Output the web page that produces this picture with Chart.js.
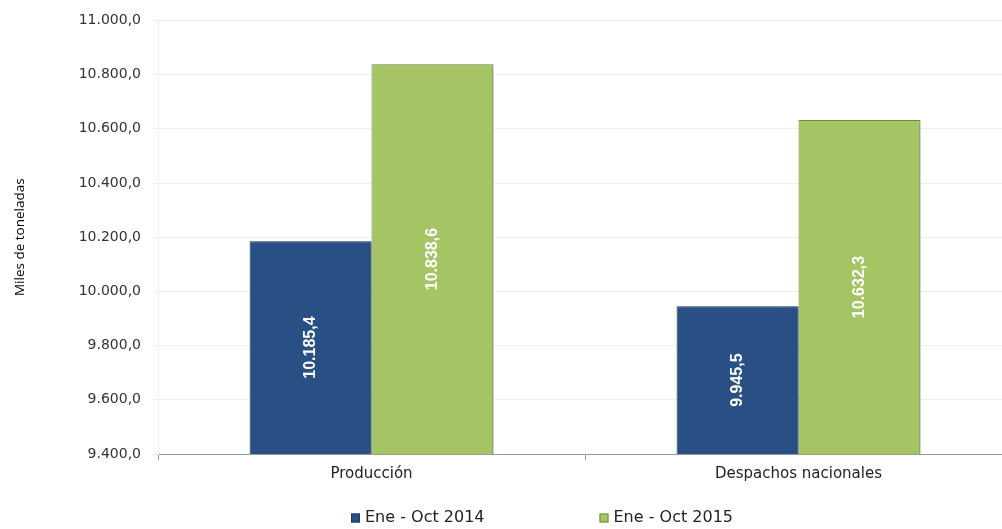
<!DOCTYPE html>
<html>
<head>
<meta charset="utf-8">
<script src="https://cdn.jsdelivr.net/npm/chart.js@4.4.1/dist/chart.umd.min.js"></script>
<style>
  html, body { margin: 0; padding: 0; background: #fff; overflow: hidden; }
  #wrap { width: 1092px; height: 529px; }
</style>
</head>
<body>
<div id="wrap"><canvas id="chart"></canvas></div>
<script>
var categories = ['Producción', 'Despachos nacionales'];
var series2014 = [10185.4, 9945.5];
var series2015 = [10838.6, 10632.3];
var seriesNames = ['Ene - Oct 2014', 'Ene - Oct 2015'];
var yMin = 9400, yMax = 11000, yStep = 200;

function fmt(v) {
    var parts = Number(v).toFixed(1).split('.');
    var ent = parts[0].replace(/\B(?=(\d{3})+(?!\d))/g, '.');
    return ent + ',' + parts[1];
}

var barShadow = {
    id: 'barShadow',
    beforeDatasetsDraw: function(chart) {
        var ctx = chart.ctx;
        ctx.save();
        ctx.shadowColor = 'rgba(0,0,0,0.35)';
        ctx.shadowBlur = 3;
        ctx.shadowOffsetX = 2;
        ctx.shadowOffsetY = 1;
    },
    afterDatasetsDraw: function(chart) {
        chart.ctx.restore();
    }
};

// etiquetas blancas giradas dentro de las barras + leyenda abajo
var extras = {
    id: 'extras',
    afterDraw: function(chart) {
        var ctx = chart.ctx;
        var ys = chart.scales.y;
        chart.data.datasets.forEach(function(ds, i) {
            var meta = chart.getDatasetMeta(i);
            meta.data.forEach(function(bar, j) {
                var top = ys.getPixelForValue(ds.data[j]);
                var bottom = ys.getPixelForValue(yMin);
                var cx = bar.x;
                ctx.save();
                ctx.translate(cx, (top + bottom) / 2);
                ctx.rotate(-Math.PI / 2);
                ctx.fillStyle = '#ffffff';
                ctx.font = 'bold 16px "Liberation Sans", sans-serif';
                ctx.textAlign = 'center';
                ctx.textBaseline = 'middle';
                ctx.fillText(fmt(ds.data[j]), 0, 0);
                ctx.restore();
            });
        });

        // leyenda
        ctx.save();
        ctx.font = '16px "DejaVu Sans", sans-serif';
        var box = 9, gapText = 5, gapItems = 115, y = 518;
        var widths = chart.data.datasets.map(function(ds) {
            return box + gapText + ctx.measureText(ds.label).width;
        });
        var total = widths[0] + gapItems + widths[1];
        var x = chart.width / 2 - total / 2 - 4;
        chart.data.datasets.forEach(function(ds, i) {
            ctx.fillStyle = ds.backgroundColor;
            ctx.strokeStyle = ds.borderColor;
            ctx.lineWidth = 1;
            ctx.fillRect(x, y - box / 2, box, box);
            ctx.strokeRect(x + 0.5, y - box / 2 + 0.5, box - 1, box - 1);
            ctx.fillStyle = '#222';
            ctx.textAlign = 'left';
            ctx.textBaseline = 'middle';
            ctx.fillText(ds.label, x + box + gapText, y);
            x += widths[i] + gapItems;
        });
        ctx.restore();
    }
};

new Chart(document.getElementById('chart'), {
    type: 'bar',
    data: {
        labels: categories,
        datasets: [
            {
                label: seriesNames[0],
                data: series2014,
                backgroundColor: '#285084',
                borderColor: '#1c3a60',
                borderWidth: 1,
                categoryPercentage: 0.571,
                barPercentage: 1.0
            },
            {
                label: seriesNames[1],
                data: series2015,
                backgroundColor: '#a5c463',
                borderColor: '#748f3c',
                borderWidth: 1,
                categoryPercentage: 0.571,
                barPercentage: 1.0
            }
        ]
    },
    options: {
        responsive: true,
        maintainAspectRatio: false,
        animation: false,
        layout: { padding: { left: 8, right: 80, top: 3, bottom: 0 } },
        plugins: {
            tooltip: { enabled: false },
            legend: { display: false }
        },
        scales: {
            x: {
                afterFit: function(scale) { scale.height = 75; },
                grid: { drawOnChartArea: false, color: '#999', tickLength: 6, offset: true },
                border: { color: '#999' },
                ticks: {
                    color: '#222',
                    padding: 5,
                    font: { family: '"DejaVu Sans", sans-serif', size: 15 }
                }
            },
            y: {
                min: yMin,
                max: yMax,
                afterFit: function(scale) { scale.width = 150; },
                grid: { color: '#efefef', tickLength: 5 },
                border: { color: '#eeeeee' },
                title: {
                    display: true,
                    text: 'Miles de toneladas',
                    color: '#000',
                    font: { family: '"Open Sans", sans-serif', size: 13.5 }
                },
                ticks: {
                    stepSize: yStep,
                    color: '#333',
                    padding: 12,
                    font: { family: '"DejaVu Sans", sans-serif', size: 14 },
                    callback: function(v) { return fmt(v); }
                }
            }
        }
    },
    plugins: [barShadow, extras]
});
</script>
</body>
</html>
